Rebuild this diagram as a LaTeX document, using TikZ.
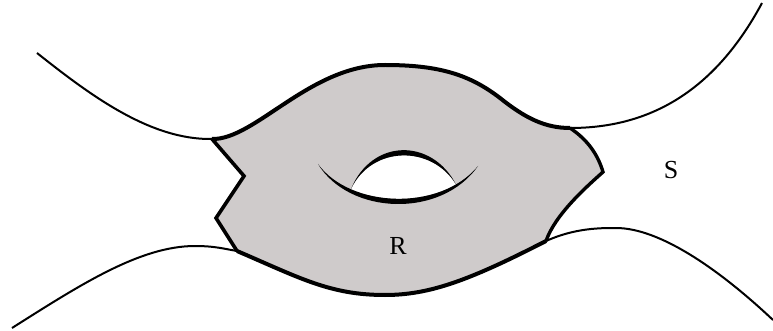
\documentclass[tikz,border=0pt]{standalone}
\usepackage{fontspec}
\setmainfont{Liberation Serif}
\definecolor{regiongray}{RGB}{207,203,203}
\tikzset{
  thinline/.style={line width=2pt},
  thickline/.style={line width=4pt},
  lab/.style={font=\fontsize{26}{26}\selectfont, inner sep=0pt}
}
\begin{document}
\begin{tikzpicture}[x=1pt,y=-1pt]
\useasboundingbox (0,0) rectangle (773,331);
% region R
\path[fill=regiongray] (212,139) .. controls (255,140) and (310,65) .. (385,65)
  .. controls (440,65) and (470,75) .. (500,98)
  .. controls (525,118) and (545,128) .. (570,128)
  .. controls (588,140) and (598,155) .. (603,172)
  .. controls (585,188) and (555,215) .. (546,241)
  .. controls (470,280) and (430,295) .. (385,295)
  .. controls (330,295) and (300,278) .. (237,251)
  -- (216,218) -- (244,176) -- cycle;
% hole (white)
\begin{scope}
  \clip (351,189) .. controls (372,145) and (432,145) .. (456,184.5) -- (456,240) -- (351,240) -- cycle;
  \fill[white] (318,164) .. controls (350,208) and (440,212) .. (478,166) -- (478,100) -- (318,100) -- cycle;
\end{scope}
% hole strokes (tapered)
\fill[black] (318,164) .. controls (350,208) and (440,212) .. (478,166)
  .. controls (441,219) and (349,215) .. (318,164) -- cycle;
\fill[black] (351,189) .. controls (372,145) and (432,145) .. (456,184.5)
  .. controls (432,138) and (372,138) .. (351,189) -- cycle;
% boundary of R
\draw[thickline] (212,139) .. controls (255,140) and (310,65) .. (385,65)
  .. controls (440,65) and (470,75) .. (500,98)
  .. controls (525,118) and (545,128) .. (570,128);
\draw[thickline, line width=3.4pt] (570,128) .. controls (588,140) and (598,155) .. (603,172)
  .. controls (585,188) and (555,215) .. (546,241);
\draw[thickline] (546,241) .. controls (470,280) and (430,295) .. (385,295)
  .. controls (330,295) and (300,278) .. (237,251);
\draw[thickline, line width=3.6pt] (237,251) -- (216,218) -- (244,176) -- (212,139);
% thin curves of S
\draw[thinline] (37,53) .. controls (90,95) and (150,140) .. (212,139);
\draw[thinline] (570,128) .. controls (640,128) and (710,100) .. (762,3);
\draw[thinline] (12,328) .. controls (80,285) and (140,246) .. (195,246)
  .. controls (215,246) and (225,249) .. (237,251);
\draw[thinline] (546,241) .. controls (575,228) and (600,228) .. (616,228)
  .. controls (660,228) and (720,270) .. (773,320);
% labels
\node[lab] (R) at (398,246) {R};
\node[lab] (S) at (671,170) {S};
\end{tikzpicture}
\end{document}
